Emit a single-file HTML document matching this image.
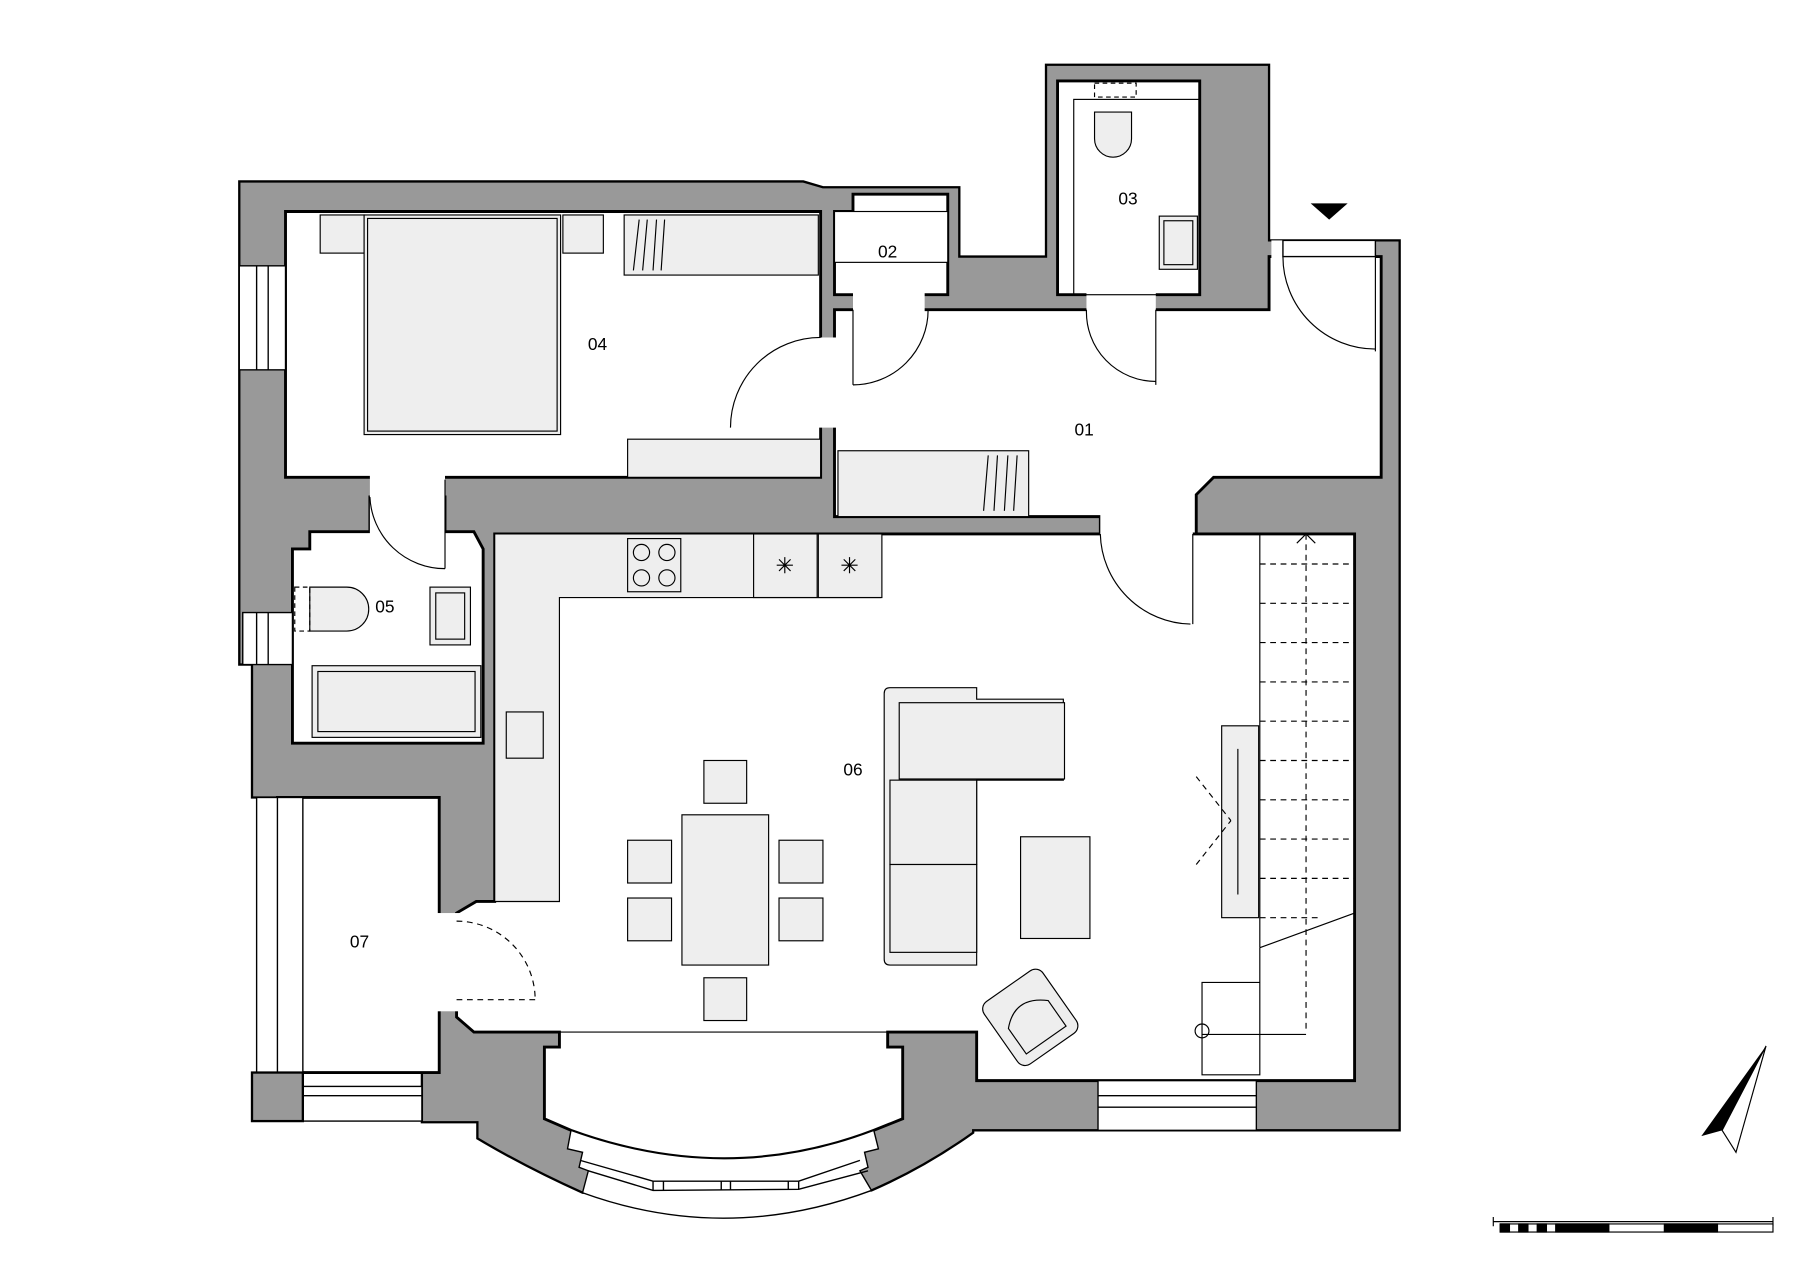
<!DOCTYPE html>
<html><head><meta charset="utf-8"><style>html,body{margin:0;padding:0;background:#fff}svg{display:block}</style></head><body>
<svg width="1810" height="1280" viewBox="0 0 1566 1107.5" xmlns="http://www.w3.org/2000/svg" font-family="Liberation Sans, sans-serif">
<g stroke="#000" stroke-width="2" stroke-linejoin="miter">
<path fill="#999" d="M207,157 L695,157 L712,162 L830,162 L830,222 L905,222 L905,56 L1098,56 L1098,208 L1211,208 L1211,978 L842,978 L842,980 Q800,1010 754,1030 L504,1032 Q455,1010 413,985 L413,971 L365,971 L365,920 L380,920 L380,690 L218,690 L218,575 L207,575 Z"/>
</g>
<g fill="#fff" stroke="#000" stroke-width="2.5">
<path d="M247,183 L710,183 L710,413 L247,413 Z"/>
<path d="M722,268 L1098,268 L1098,222 L1195,222 L1195,413 L1050,413 L1035,428 L1035,462 L952,462 L952,447 L722,447 Z"/>
<path d="M722,183 L738,183 L738,168 L820,168 L820,255 L722,255 Z"/>
<path d="M915,70 L1038,70 L1038,255 L915,255 Z"/>
<path d="M253,475 L268,475 L268,460 L320,460 L320,430 L385,430 L385,460 L410,460 L418,475 L418,643 L253,643 Z"/>
<path d="M428,462 L1172,462 L1172,935 L845,935 L845,893 L768,893 L768,906 L781,906 L781,968 L756,978 Q628,1027 494,978 L471,968 L471,906 L484,906 L484,893 L410,893 L395,880 L395,790 L412,780 L428,780 Z"/>
<path d="M240,690 L380,690 L380,928 L240,928 Z"/>
</g>
<g fill="#fff" stroke="none">
<rect x="705" y="292" width="22" height="78"/>
<rect x="738" y="250" width="62" height="22"/>
<rect x="940" y="250" width="60" height="22"/>
<rect x="1100" y="208" width="90" height="18"/>
<rect x="952" y="440" width="80" height="26"/>
<rect x="320" y="408" width="65" height="56"/>
<rect x="377" y="790" width="22" height="85"/>
</g>
<g fill="#fff" stroke="#000" stroke-width="1.2">
<rect x="207" y="230" width="40" height="90"/><line x1="222" y1="230" x2="222" y2="320"/><line x1="232" y1="230" x2="232" y2="320"/>
<rect x="210" y="530" width="43" height="45"/><line x1="222" y1="530" x2="222" y2="575"/><line x1="232" y1="530" x2="232" y2="575"/>
<rect x="222" y="690" width="40" height="238"/><line x1="240" y1="690" x2="240" y2="928"/>
<rect x="262" y="940" width="103" height="30"/><line x1="262" y1="948" x2="365" y2="948"/>
<rect x="950" y="935" width="137" height="43"/><line x1="950" y1="948" x2="1087" y2="948"/><line x1="950" y1="958" x2="1087" y2="958"/>
<rect x="1110" y="208" width="80" height="14"/>
<path d="M494,978 L491,994 L504,997 L501,1010 L509,1013 L504,1032 Q628,1077 754,1030 L744,1013 L751,1010 L748,997 L760,994 L756,978 Q628,1027 494,978 Z"/>
<path d="M502,1004 L565,1022 L691,1022 L744,1004 M509,1013 L565,1030 L691,1029 L751,1013" fill="none"/>
<path d="M565,1022 V1030 M574,1022 V1030 M624,1022 V1030 M632,1022 V1030 M682,1022 V1029 M691,1022 V1029" fill="none"/>
</g>
<rect x="218" y="928" width="44" height="42" fill="#999" stroke="#000" stroke-width="2"/>
<g fill="none" stroke="#000" stroke-width="1">
<path d="M710,292 A78,78 0 0 0 632,370"/>
<path d="M738,268 L738,333 M803,268 A65,65 0 0 1 738,333"/>
<path d="M1000,268 L1000,333 M940,268 A60,60 0 0 0 1000,330"/>
<path d="M1190,222 L1190,304 M1110,222 A80,80 0 0 0 1190,302"/>
<path d="M1032,462 L1032,540 M952,462 A80,80 0 0 0 1030,540"/>
<path d="M385,415 L385,492 M320,430 A65,65 0 0 0 385,492"/>
<path d="M395,865 L463,865 M395,797 A68,68 0 0 1 463,865" stroke-dasharray="5,4"/>
</g>
<g fill="#eee" stroke="#000" stroke-width="1">
<rect x="277" y="186" width="38" height="33"/><rect x="487" y="186" width="35" height="33"/>
<rect x="315" y="186" width="170" height="190"/><rect x="318" y="189" width="164" height="184" fill="none"/>
<rect x="540" y="186" width="168" height="52"/>
<rect x="543" y="380" width="167" height="33"/>
<rect x="725" y="390" width="165" height="57"/>
<rect x="722" y="183" width="98" height="44" fill="#fff"/>
<path d="M428,462 L762,462 L762,517 L484,517 L484,780 L428,780 Z"/>
<rect x="543" y="466" width="46" height="46"/>
<rect x="652" y="462" width="55" height="55"/><rect x="708" y="462" width="55" height="55"/>
<rect x="438" y="616" width="32" height="40"/>
<rect x="590" y="705" width="75" height="130"/>
<rect x="609" y="658" width="37" height="37"/><rect x="543" y="727" width="38" height="37"/><rect x="543" y="777" width="38" height="37"/>
<rect x="674" y="727" width="38" height="37"/><rect x="674" y="777" width="38" height="37"/><rect x="609" y="846" width="37" height="37"/>
<path d="M765,600 Q765,595 770,595 L845,595 L845,605 L920,605 L920,675 L845,675 L845,835 L770,835 Q765,835 765,830 Z"/>
<rect x="778" y="608" width="143" height="66"/>
<rect x="770" y="675" width="75" height="73"/><rect x="770" y="748" width="75" height="76"/>
<rect x="883" y="724" width="60" height="88"/>
<g transform="rotate(-35 890 880)"><rect x="860" y="848" width="62" height="66" rx="8"/><path d="M870,878 Q890,858 912,878 L912,905 L870,905 Z"/></g>
<rect x="1057" y="628" width="32" height="166"/>
<rect x="372" y="508" width="35" height="50"/><rect x="377" y="513" width="25" height="40"/>
<path d="M268,508 L300,508 A18,18 0 0 1 300,546 L268,546 Z"/>
<rect x="270" y="576" width="146" height="62"/><rect x="275" y="581" width="136" height="52" fill="none"/>
<rect x="1003" y="187" width="33" height="46"/><rect x="1007" y="191" width="25" height="38"/>
<path d="M947,97 L979,97 L979,120 A16,16 0 0 1 947,120 Z"/>
</g>
<g fill="none" stroke="#000" stroke-width="1">
<circle cx="555" cy="478" r="7"/><circle cx="577" cy="478" r="7"/><circle cx="555" cy="500" r="7"/><circle cx="577" cy="500" r="7"/>
<path d="M672,489 h14 M679,482 v14 M674,484 l10,10 M684,484 l-10,10"/>
<path d="M728,489 h14 M735,482 v14 M730,484 l10,10 M740,484 l-10,10"/>
<path d="M553,190 L548,234 M560,190 L556,234 M568,190 L565,234 M575,190 L572,234"/>
<path d="M855,394 L851,442 M863,394 L860,442 M872,394 L869,442 M880,394 L877,442"/>
<line x1="1071" y1="648" x2="1071" y2="774"/>
<rect x="929" y="86" width="109" height="169"/>
<rect x="947" y="72" width="36" height="12" stroke-dasharray="4,3"/>
<rect x="255" y="508" width="13" height="38" stroke-dasharray="4,3"/>
<line x1="1035" y1="672" x2="1065" y2="710" stroke-dasharray="5,4"/><line x1="1035" y1="748" x2="1065" y2="710" stroke-dasharray="5,4"/>
<path d="M1090,462 V820 M1090,820 L1172,790" />
<path d="M1090,820 V930 M1040,850 H1090 V930 H1040 Z M1040,895 H1130" />
<circle cx="1040" cy="892" r="6"/>
<path d="M1130,462 V892" stroke-dasharray="5,4"/>
<path d="M1122,470 L1130,462 L1138,470" />
<g stroke-dasharray="5,4">
<line x1="1090" y1="488" x2="1172" y2="488"/><line x1="1090" y1="522" x2="1172" y2="522"/><line x1="1090" y1="556" x2="1172" y2="556"/>
<line x1="1090" y1="590" x2="1172" y2="590"/><line x1="1090" y1="624" x2="1172" y2="624"/><line x1="1090" y1="658" x2="1172" y2="658"/>
<line x1="1090" y1="692" x2="1172" y2="692"/><line x1="1090" y1="726" x2="1172" y2="726"/><line x1="1090" y1="760" x2="1172" y2="760"/>
<line x1="1090" y1="794" x2="1140" y2="794"/>
</g>
<line x1="484" y1="893" x2="768" y2="893"/>
</g>
<polygon points="1134,176 1166,176 1150,190" fill="#000"/>
<polygon points="1528,905 1472,983 1490,978" fill="#000"/>
<polygon points="1528,905 1490,978 1502,997" fill="#fff" stroke="#000" stroke-width="1"/>
<g stroke="#000" stroke-width="1">
<line x1="1292" y1="1057" x2="1534" y2="1057"/><line x1="1292" y1="1053" x2="1292" y2="1061"/><line x1="1534" y1="1053" x2="1534" y2="1061"/>
<rect x="1298" y="1059" width="236" height="7" fill="#fff"/>
<rect x="1298" y="1059" width="8" height="7" fill="#000"/><rect x="1314" y="1059" width="8" height="7" fill="#000"/><rect x="1330" y="1059" width="8" height="7" fill="#000"/>
<rect x="1346" y="1059" width="46" height="7" fill="#000"/><rect x="1440" y="1059" width="46" height="7" fill="#000"/>
</g>
<g font-size="15" fill="#000" text-anchor="middle">
<text x="938" y="377">01</text><text x="768" y="223">02</text><text x="976" y="177">03</text><text x="517" y="303">04</text>
<text x="333" y="530">05</text><text x="738" y="671">06</text><text x="311" y="820">07</text>
</g>
</svg>
</body></html>
